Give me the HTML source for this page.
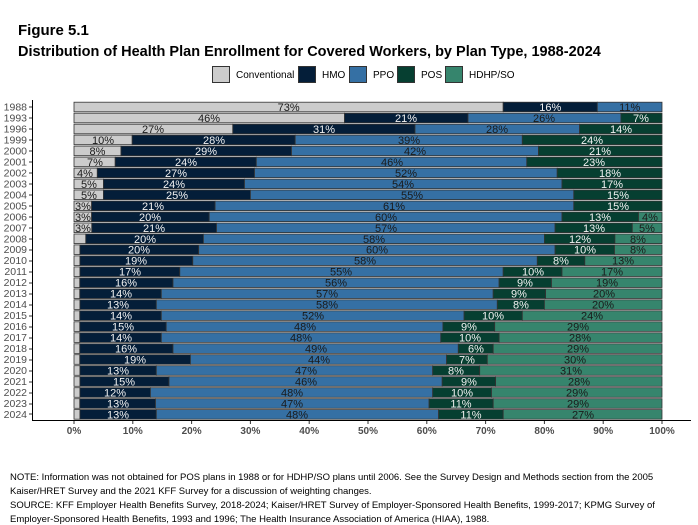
<!DOCTYPE html>
<html><head><meta charset="utf-8"><style>
html,body{margin:0;padding:0;background:#fff;}
svg{display:block;font-family:"Liberation Sans",sans-serif;}
.l text{font-size:11px;text-anchor:middle;}
.d{fill:#1a1a1a}.w{fill:#f2f2f2}
.c{fill:#cccccc}.h{fill:#041e39}.p{fill:#3570a4}.o{fill:#063f31}.s{fill:#36856d}
rect.b{stroke:#333;stroke-width:0.8}
.yl{font-size:10.5px;fill:#4d4d4d;text-anchor:end}
.xl{font-size:10px;fill:#4d4d4d;text-anchor:middle;font-weight:bold}
</style></head><body>
<svg width="698" height="525" viewBox="0 0 698 525">
<text x="18" y="35" font-size="15" font-weight="bold">Figure 5.1</text>
<text x="18" y="56" font-size="14.5" font-weight="bold">Distribution of Health Plan Enrollment for Covered Workers, by Plan Type, 1988-2024</text>
<g font-size="10">
<rect x="212.5" y="66.5" width="17" height="16" class="c" stroke="#333"/><text x="236" y="78">Conventional</text>
<rect x="298.5" y="66.5" width="17" height="16" class="h" stroke="#333"/><text x="322" y="78">HMO</text>
<rect x="349.5" y="66.5" width="17" height="16" class="p" stroke="#333"/><text x="373" y="78">PPO</text>
<rect x="397.5" y="66.5" width="17" height="16" class="o" stroke="#333"/><text x="421" y="78">POS</text>
<rect x="445.5" y="66.5" width="17" height="16" class="s" stroke="#333"/><text x="469" y="78">HDHP/SO</text>
</g>
<line x1="32.5" y1="100" x2="32.5" y2="421" stroke="#000"/>
<line x1="32" y1="420.5" x2="691" y2="420.5" stroke="#000"/>
<g class="xl">
<text x="74" y="434">0%</text><text x="132.8" y="434">10%</text><text x="191.6" y="434">20%</text><text x="250.4" y="434">30%</text><text x="309.2" y="434">40%</text><text x="368" y="434">50%</text><text x="426.8" y="434">60%</text><text x="485.6" y="434">70%</text><text x="544.4" y="434">80%</text><text x="603.2" y="434">90%</text><text x="662" y="434">100%</text>
</g>
<g stroke="#333"><line x1="74" y1="421" x2="74" y2="424"/><line x1="132.8" y1="421" x2="132.8" y2="424"/><line x1="191.6" y1="421" x2="191.6" y2="424"/><line x1="250.4" y1="421" x2="250.4" y2="424"/><line x1="309.2" y1="421" x2="309.2" y2="424"/><line x1="368" y1="421" x2="368" y2="424"/><line x1="426.8" y1="421" x2="426.8" y2="424"/><line x1="485.6" y1="421" x2="485.6" y2="424"/><line x1="544.4" y1="421" x2="544.4" y2="424"/><line x1="603.2" y1="421" x2="603.2" y2="424"/><line x1="662" y1="421" x2="662" y2="424"/></g>

<g transform="translate(0,107)" class="l"><rect class="b c" x="74" y="-4.8" width="429.2" height="9.6"/><rect class="b h" x="503.2" y="-4.8" width="94.1" height="9.6"/><rect class="b p" x="597.3" y="-4.8" width="64.7" height="9.6"/><text class="d" x="288.6" y="4">73%</text><text class="w" x="550.3" y="4">16%</text><text class="d" x="629.7" y="4">11%</text></g>
<g transform="translate(0,118)" class="l"><rect class="b c" x="74" y="-4.8" width="270.5" height="9.6"/><rect class="b h" x="344.5" y="-4.8" width="123.5" height="9.6"/><rect class="b p" x="468" y="-4.8" width="152.9" height="9.6"/><rect class="b o" x="620.9" y="-4.8" width="41.1" height="9.6"/><text class="d" x="209" y="4">46%</text><text class="w" x="406" y="4">21%</text><text class="d" x="544" y="4">26%</text><text class="w" x="641" y="4">7%</text></g>
<g transform="translate(0,129)" class="l"><rect class="b c" x="74" y="-4.8" width="158.8" height="9.6"/><rect class="b h" x="232.8" y="-4.8" width="182.2" height="9.6"/><rect class="b p" x="415" y="-4.8" width="164.6" height="9.6"/><rect class="b o" x="579.6" y="-4.8" width="82.4" height="9.6"/><text class="d" x="153" y="4">27%</text><text class="w" x="324" y="4">31%</text><text class="d" x="497" y="4">28%</text><text class="w" x="621" y="4">14%</text></g>
<g transform="translate(0,139.9)" class="l"><rect class="b c" x="74" y="-4.8" width="58.2" height="9.6"/><rect class="b h" x="132.2" y="-4.8" width="163" height="9.6"/><rect class="b p" x="295.2" y="-4.8" width="227.1" height="9.6"/><rect class="b o" x="522.3" y="-4.8" width="139.7" height="9.6"/><text class="d" x="103" y="4">10%</text><text class="w" x="214" y="4">28%</text><text class="d" x="409" y="4">39%</text><text class="w" x="592" y="4">24%</text></g>
<g transform="translate(0,150.9)" class="l"><rect class="b c" x="74" y="-4.8" width="47" height="9.6"/><rect class="b h" x="121" y="-4.8" width="170.5" height="9.6"/><rect class="b p" x="291.5" y="-4.8" width="247" height="9.6"/><rect class="b o" x="538.5" y="-4.8" width="123.5" height="9.6"/><text class="d" x="97.5" y="4">8%</text><text class="w" x="206" y="4">29%</text><text class="d" x="415" y="4">42%</text><text class="w" x="600" y="4">21%</text></g>
<g transform="translate(0,161.9)" class="l"><rect class="b c" x="74" y="-4.8" width="41.2" height="9.6"/><rect class="b h" x="115.2" y="-4.8" width="141.1" height="9.6"/><rect class="b p" x="256.3" y="-4.8" width="270.5" height="9.6"/><rect class="b o" x="526.8" y="-4.8" width="135.2" height="9.6"/><text class="d" x="95" y="4">7%</text><text class="w" x="186" y="4">24%</text><text class="d" x="392" y="4">46%</text><text class="w" x="594" y="4">23%</text></g>
<g transform="translate(0,172.9)" class="l"><rect class="b c" x="74" y="-4.8" width="23.3" height="9.6"/><rect class="b h" x="97.3" y="-4.8" width="157.2" height="9.6"/><rect class="b p" x="254.5" y="-4.8" width="302.7" height="9.6"/><rect class="b o" x="557.2" y="-4.8" width="104.8" height="9.6"/><text class="d" x="85" y="4">4%</text><text class="w" x="176" y="4">27%</text><text class="d" x="406" y="4">52%</text><text class="w" x="610" y="4">18%</text></g>
<g transform="translate(0,183.9)" class="l"><rect class="b c" x="74" y="-4.8" width="29.4" height="9.6"/><rect class="b h" x="103.4" y="-4.8" width="141.1" height="9.6"/><rect class="b p" x="244.5" y="-4.8" width="317.5" height="9.6"/><rect class="b o" x="562" y="-4.8" width="100" height="9.6"/><text class="d" x="89" y="4">5%</text><text class="w" x="174" y="4">24%</text><text class="d" x="403" y="4">54%</text><text class="w" x="612" y="4">17%</text></g>
<g transform="translate(0,194.8)" class="l"><rect class="b c" x="74" y="-4.8" width="29.4" height="9.6"/><rect class="b h" x="103.4" y="-4.8" width="147" height="9.6"/><rect class="b p" x="250.4" y="-4.8" width="323.4" height="9.6"/><rect class="b o" x="573.8" y="-4.8" width="88.2" height="9.6"/><text class="d" x="89" y="4">5%</text><text class="w" x="177" y="4">25%</text><text class="d" x="412" y="4">55%</text><text class="w" x="618" y="4">15%</text></g>
<g transform="translate(0,205.8)" class="l"><rect class="b c" x="74" y="-4.8" width="17.6" height="9.6"/><rect class="b h" x="91.6" y="-4.8" width="123.5" height="9.6"/><rect class="b p" x="215.1" y="-4.8" width="358.7" height="9.6"/><rect class="b o" x="573.8" y="-4.8" width="88.2" height="9.6"/><text class="d" x="83" y="4">3%</text><text class="w" x="153" y="4">21%</text><text class="d" x="394" y="4">61%</text><text class="w" x="618" y="4">15%</text></g>
<g transform="translate(0,216.8)" class="l"><rect class="b c" x="74" y="-4.8" width="17.6" height="9.6"/><rect class="b h" x="91.6" y="-4.8" width="117.6" height="9.6"/><rect class="b p" x="209.2" y="-4.8" width="352.8" height="9.6"/><rect class="b o" x="562" y="-4.8" width="76.5" height="9.6"/><rect class="b s" x="638.5" y="-4.8" width="23.5" height="9.6"/><text class="d" x="83" y="4">3%</text><text class="w" x="150" y="4">20%</text><text class="d" x="386" y="4">60%</text><text class="w" x="600" y="4">13%</text><text class="d" x="650" y="4">4%</text></g>
<g transform="translate(0,227.8)" class="l"><rect class="b c" x="74" y="-4.8" width="17.8" height="9.6"/><rect class="b h" x="91.8" y="-4.8" width="124.7" height="9.6"/><rect class="b p" x="216.5" y="-4.8" width="338.6" height="9.6"/><rect class="b o" x="555.1" y="-4.8" width="77.2" height="9.6"/><rect class="b s" x="632.3" y="-4.8" width="29.7" height="9.6"/><text class="d" x="83" y="4">3%</text><text class="w" x="154" y="4">21%</text><text class="d" x="386" y="4">57%</text><text class="w" x="594" y="4">13%</text><text class="d" x="647" y="4">5%</text></g>
<g transform="translate(0,238.8)" class="l"><rect class="b c" x="74" y="-4.8" width="11.8" height="9.6"/><rect class="b h" x="85.8" y="-4.8" width="117.6" height="9.6"/><rect class="b p" x="203.4" y="-4.8" width="341" height="9.6"/><rect class="b o" x="544.4" y="-4.8" width="70.5" height="9.6"/><rect class="b s" x="614.9" y="-4.8" width="47.1" height="9.6"/><text class="w" x="145" y="4">20%</text><text class="d" x="374" y="4">58%</text><text class="w" x="580" y="4">12%</text><text class="d" x="638" y="4">8%</text></g>
<g transform="translate(0,249.7)" class="l"><rect class="b c" x="74" y="-4.8" width="5.9" height="9.6"/><rect class="b h" x="79.9" y="-4.8" width="118.8" height="9.6"/><rect class="b p" x="198.7" y="-4.8" width="356.4" height="9.6"/><rect class="b o" x="555.1" y="-4.8" width="59.4" height="9.6"/><rect class="b s" x="614.5" y="-4.8" width="47.5" height="9.6"/><text class="w" x="139" y="4">20%</text><text class="d" x="377" y="4">60%</text><text class="w" x="585" y="4">10%</text><text class="d" x="638" y="4">8%</text></g>
<g transform="translate(0,260.7)" class="l"><rect class="b c" x="74" y="-4.8" width="5.9" height="9.6"/><rect class="b h" x="79.9" y="-4.8" width="112.9" height="9.6"/><rect class="b p" x="192.8" y="-4.8" width="344.5" height="9.6"/><rect class="b o" x="537.3" y="-4.8" width="47.5" height="9.6"/><rect class="b s" x="584.8" y="-4.8" width="77.2" height="9.6"/><text class="w" x="136" y="4">19%</text><text class="d" x="365" y="4">58%</text><text class="w" x="561" y="4">8%</text><text class="d" x="623" y="4">13%</text></g>
<g transform="translate(0,271.7)" class="l"><rect class="b c" x="74" y="-4.8" width="5.9" height="9.6"/><rect class="b h" x="79.9" y="-4.8" width="99.9" height="9.6"/><rect class="b p" x="179.8" y="-4.8" width="323.4" height="9.6"/><rect class="b o" x="503.2" y="-4.8" width="58.8" height="9.6"/><rect class="b s" x="562" y="-4.8" width="100" height="9.6"/><text class="w" x="130" y="4">17%</text><text class="d" x="341" y="4">55%</text><text class="w" x="533" y="4">10%</text><text class="d" x="612" y="4">17%</text></g>
<g transform="translate(0,282.7)" class="l"><rect class="b c" x="74" y="-4.8" width="5.8" height="9.6"/><rect class="b h" x="79.8" y="-4.8" width="93.2" height="9.6"/><rect class="b p" x="173" y="-4.8" width="326.1" height="9.6"/><rect class="b o" x="499.1" y="-4.8" width="52.4" height="9.6"/><rect class="b s" x="551.5" y="-4.8" width="110.5" height="9.6"/><text class="w" x="126" y="4">16%</text><text class="d" x="336" y="4">56%</text><text class="w" x="525" y="4">9%</text><text class="d" x="607" y="4">19%</text></g>
<g transform="translate(0,293.7)" class="l"><rect class="b c" x="74" y="-4.8" width="5.8" height="9.6"/><rect class="b h" x="79.8" y="-4.8" width="81.5" height="9.6"/><rect class="b p" x="161.3" y="-4.8" width="331.9" height="9.6"/><rect class="b o" x="493.2" y="-4.8" width="52.4" height="9.6"/><rect class="b s" x="545.6" y="-4.8" width="116.4" height="9.6"/><text class="w" x="121" y="4">14%</text><text class="d" x="327" y="4">57%</text><text class="w" x="519" y="4">9%</text><text class="d" x="604" y="4">20%</text></g>
<g transform="translate(0,304.6)" class="l"><rect class="b c" x="74" y="-4.8" width="5.9" height="9.6"/><rect class="b h" x="79.9" y="-4.8" width="76.4" height="9.6"/><rect class="b p" x="156.3" y="-4.8" width="341" height="9.6"/><rect class="b o" x="497.3" y="-4.8" width="47.1" height="9.6"/><rect class="b s" x="544.4" y="-4.8" width="117.6" height="9.6"/><text class="w" x="118" y="4">13%</text><text class="d" x="327" y="4">58%</text><text class="w" x="521" y="4">8%</text><text class="d" x="603" y="4">20%</text></g>
<g transform="translate(0,315.6)" class="l"><rect class="b c" x="74" y="-4.8" width="5.8" height="9.6"/><rect class="b h" x="79.8" y="-4.8" width="81.5" height="9.6"/><rect class="b p" x="161.3" y="-4.8" width="302.8" height="9.6"/><rect class="b o" x="464.1" y="-4.8" width="58.2" height="9.6"/><rect class="b s" x="522.3" y="-4.8" width="139.7" height="9.6"/><text class="w" x="121" y="4">14%</text><text class="d" x="313" y="4">52%</text><text class="w" x="493" y="4">10%</text><text class="d" x="592" y="4">24%</text></g>
<g transform="translate(0,326.6)" class="l"><rect class="b c" x="74" y="-4.8" width="5.8" height="9.6"/><rect class="b h" x="79.8" y="-4.8" width="86.4" height="9.6"/><rect class="b p" x="166.2" y="-4.8" width="276.7" height="9.6"/><rect class="b o" x="442.9" y="-4.8" width="51.8" height="9.6"/><rect class="b s" x="494.7" y="-4.8" width="167.3" height="9.6"/><text class="w" x="123" y="4">15%</text><text class="d" x="305" y="4">48%</text><text class="w" x="469" y="4">9%</text><text class="d" x="578" y="4">29%</text></g>
<g transform="translate(0,337.6)" class="l"><rect class="b c" x="74" y="-4.8" width="5.8" height="9.6"/><rect class="b h" x="79.8" y="-4.8" width="81.5" height="9.6"/><rect class="b p" x="161.3" y="-4.8" width="279.5" height="9.6"/><rect class="b o" x="440.8" y="-4.8" width="58.3" height="9.6"/><rect class="b s" x="499.1" y="-4.8" width="162.9" height="9.6"/><text class="w" x="121" y="4">14%</text><text class="d" x="301" y="4">48%</text><text class="w" x="470" y="4">10%</text><text class="d" x="580" y="4">28%</text></g>
<g transform="translate(0,348.6)" class="l"><rect class="b c" x="74" y="-4.8" width="5.8" height="9.6"/><rect class="b h" x="79.8" y="-4.8" width="93.2" height="9.6"/><rect class="b p" x="173" y="-4.8" width="285.3" height="9.6"/><rect class="b o" x="458.3" y="-4.8" width="34.9" height="9.6"/><rect class="b s" x="493.2" y="-4.8" width="168.8" height="9.6"/><text class="w" x="126" y="4">16%</text><text class="d" x="316" y="4">49%</text><text class="w" x="476" y="4">6%</text><text class="d" x="578" y="4">29%</text></g>
<g transform="translate(0,359.5)" class="l"><rect class="b c" x="74" y="-4.8" width="5.8" height="9.6"/><rect class="b h" x="79.8" y="-4.8" width="110.6" height="9.6"/><rect class="b p" x="190.4" y="-4.8" width="256.2" height="9.6"/><rect class="b o" x="446.6" y="-4.8" width="40.7" height="9.6"/><rect class="b s" x="487.3" y="-4.8" width="174.7" height="9.6"/><text class="w" x="135" y="4">19%</text><text class="d" x="319" y="4">44%</text><text class="w" x="467" y="4">7%</text><text class="d" x="575" y="4">30%</text></g>
<g transform="translate(0,370.5)" class="l"><rect class="b c" x="74" y="-4.8" width="5.9" height="9.6"/><rect class="b h" x="79.9" y="-4.8" width="76.4" height="9.6"/><rect class="b p" x="156.3" y="-4.8" width="276.4" height="9.6"/><rect class="b o" x="432.7" y="-4.8" width="47" height="9.6"/><rect class="b s" x="479.7" y="-4.8" width="182.3" height="9.6"/><text class="w" x="118" y="4">13%</text><text class="d" x="306" y="4">47%</text><text class="w" x="456" y="4">8%</text><text class="d" x="571" y="4">31%</text></g>
<g transform="translate(0,381.5)" class="l"><rect class="b c" x="74" y="-4.8" width="5.9" height="9.6"/><rect class="b h" x="79.9" y="-4.8" width="89.1" height="9.6"/><rect class="b p" x="169" y="-4.8" width="273.2" height="9.6"/><rect class="b o" x="442.2" y="-4.8" width="53.4" height="9.6"/><rect class="b s" x="495.6" y="-4.8" width="166.4" height="9.6"/><text class="w" x="124" y="4">15%</text><text class="d" x="306" y="4">46%</text><text class="w" x="469" y="4">9%</text><text class="d" x="579" y="4">28%</text></g>
<g transform="translate(0,392.5)" class="l"><rect class="b c" x="74" y="-4.8" width="5.9" height="9.6"/><rect class="b h" x="79.9" y="-4.8" width="70.5" height="9.6"/><rect class="b p" x="150.4" y="-4.8" width="282.3" height="9.6"/><rect class="b o" x="432.7" y="-4.8" width="58.8" height="9.6"/><rect class="b s" x="491.5" y="-4.8" width="170.5" height="9.6"/><text class="w" x="115" y="4">12%</text><text class="d" x="292" y="4">48%</text><text class="w" x="462" y="4">10%</text><text class="d" x="577" y="4">29%</text></g>
<g transform="translate(0,403.5)" class="l"><rect class="b c" x="74" y="-4.8" width="5.8" height="9.6"/><rect class="b h" x="79.8" y="-4.8" width="75.7" height="9.6"/><rect class="b p" x="155.5" y="-4.8" width="273.6" height="9.6"/><rect class="b o" x="429.1" y="-4.8" width="64.1" height="9.6"/><rect class="b s" x="493.2" y="-4.8" width="168.8" height="9.6"/><text class="w" x="118" y="4">13%</text><text class="d" x="292" y="4">47%</text><text class="w" x="461" y="4">11%</text><text class="d" x="578" y="4">29%</text></g>
<g transform="translate(0,414.4)" class="l"><rect class="b c" x="74" y="-4.8" width="5.9" height="9.6"/><rect class="b h" x="79.9" y="-4.8" width="76.4" height="9.6"/><rect class="b p" x="156.3" y="-4.8" width="282.3" height="9.6"/><rect class="b o" x="438.6" y="-4.8" width="64.6" height="9.6"/><rect class="b s" x="503.2" y="-4.8" width="158.8" height="9.6"/><text class="w" x="118" y="4">13%</text><text class="d" x="297" y="4">48%</text><text class="w" x="471" y="4">11%</text><text class="d" x="583" y="4">27%</text></g>

<g class="yl">
<text x="27" y="110.5">1988</text><text x="27" y="121.5">1993</text><text x="27" y="132.5">1996</text><text x="27" y="143.4">1999</text><text x="27" y="154.4">2000</text><text x="27" y="165.4">2001</text><text x="27" y="176.4">2002</text><text x="27" y="187.4">2003</text><text x="27" y="198.3">2004</text><text x="27" y="209.3">2005</text><text x="27" y="220.3">2006</text><text x="27" y="231.3">2007</text><text x="27" y="242.3">2008</text><text x="27" y="253.2">2009</text><text x="27" y="264.2">2010</text><text x="27" y="275.2">2011</text><text x="27" y="286.2">2012</text><text x="27" y="297.2">2013</text><text x="27" y="308.1">2014</text><text x="27" y="319.1">2015</text><text x="27" y="330.1">2016</text><text x="27" y="341.1">2017</text><text x="27" y="352.1">2018</text><text x="27" y="363">2019</text><text x="27" y="374">2020</text><text x="27" y="385">2021</text><text x="27" y="396">2022</text><text x="27" y="407">2023</text><text x="27" y="417.9">2024</text>
</g>
<g stroke="#333"><line x1="29" y1="107" x2="32" y2="107"/><line x1="29" y1="118" x2="32" y2="118"/><line x1="29" y1="129" x2="32" y2="129"/><line x1="29" y1="140" x2="32" y2="140"/><line x1="29" y1="151" x2="32" y2="151"/><line x1="29" y1="162" x2="32" y2="162"/><line x1="29" y1="173" x2="32" y2="173"/><line x1="29" y1="184" x2="32" y2="184"/><line x1="29" y1="195" x2="32" y2="195"/><line x1="29" y1="206" x2="32" y2="206"/><line x1="29" y1="217" x2="32" y2="217"/><line x1="29" y1="228" x2="32" y2="228"/><line x1="29" y1="239" x2="32" y2="239"/><line x1="29" y1="250" x2="32" y2="250"/><line x1="29" y1="261" x2="32" y2="261"/><line x1="29" y1="272" x2="32" y2="272"/><line x1="29" y1="283" x2="32" y2="283"/><line x1="29" y1="294" x2="32" y2="294"/><line x1="29" y1="305" x2="32" y2="305"/><line x1="29" y1="316" x2="32" y2="316"/><line x1="29" y1="327" x2="32" y2="327"/><line x1="29" y1="338" x2="32" y2="338"/><line x1="29" y1="349" x2="32" y2="349"/><line x1="29" y1="360" x2="32" y2="360"/><line x1="29" y1="371" x2="32" y2="371"/><line x1="29" y1="382" x2="32" y2="382"/><line x1="29" y1="393" x2="32" y2="393"/><line x1="29" y1="404" x2="32" y2="404"/><line x1="29" y1="414" x2="32" y2="414"/></g>

<g font-size="9.5" fill="#000">
<text x="10" y="480">NOTE: Information was not obtained for POS plans in 1988 or for HDHP/SO plans until 2006. See the Survey Design and Methods section from the 2005</text>
<text x="10" y="494">Kaiser/HRET Survey and the 2021 KFF Survey for a discussion of weighting changes.</text>
<text x="10" y="508">SOURCE: KFF Employer Health Benefits Survey, 2018-2024; Kaiser/HRET Survey of Employer-Sponsored Health Benefits, 1999-2017; KPMG Survey of</text>
<text x="10" y="522">Employer-Sponsored Health Benefits, 1993 and 1996; The Health Insurance Association of America (HIAA), 1988.</text>
</g>
</svg>
</body></html>
